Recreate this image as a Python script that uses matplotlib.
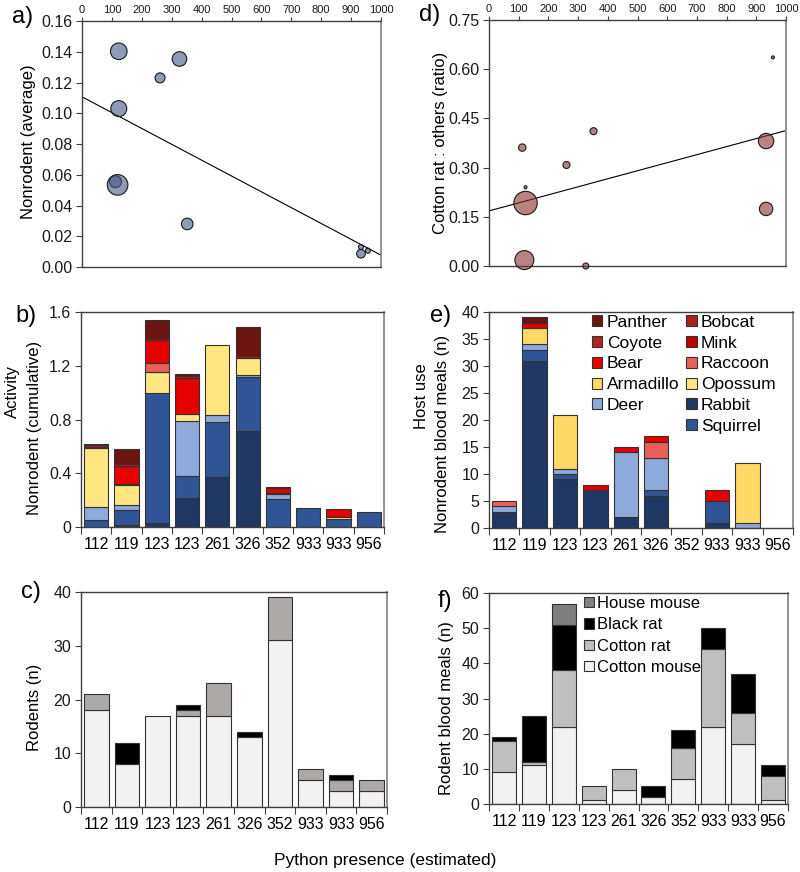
import matplotlib
matplotlib.use('Agg')
import matplotlib.pyplot as plt
from matplotlib.patches import Patch
import numpy as np

plt.rcParams['font.family'] = ['Liberation Sans', 'DejaVu Sans']

# sites, ordered by estimated python presence
presence = [112, 119, 123, 123, 261, 326, 352, 933, 933, 956]
site_labels = ['112', '119', '123', '123', '261', '326', '352', '933', '933', '956']

# a) nonrodent activity (average), bubble radius in px
nonrod_avg = [0.0555, 0.0534, 0.1403, 0.103, 0.123, 0.1353, 0.028, 0.0086, 0.013, 0.0106]
nonrod_rad = [6, 10.3, 8.3, 8, 5, 7.3, 5.8, 4.3, 2.5, 2.5]
fit_a = [0.1107, -0.000103]   # intercept, slope

# d) cotton rat : others ratio, bubble radius in px
ratio_cr = [0.361, 0.018, 0.192, 0.240, 0.308, 0.0, 0.411, 0.381, 0.174, 0.636]
ratio_rad = [3.7, 9.5, 11.7, 1.5, 3.5, 3, 3.5, 7.7, 6.7, 1.5]
fit_d = [0.168, 0.000245]

# b) nonrodent activity (cumulative)
act_rabbit = [0, 0.017, 0.032, 0.219, 0.373, 0.714, 0, 0, 0, 0]
act_squirrel = [0.055, 0.112, 0.963, 0.159, 0.406, 0.401, 0.212, 0.144, 0.057, 0.112]
act_deer = [0.095, 0.038, 0, 0.413, 0.055, 0.017, 0.03, 0, 0, 0]
act_opossum = [0.435, 0.144, 0.162, 0.048, 0.522, 0.124, 0, 0, 0.015, 0]
act_armadillo = [0, 0, 0, 0, 0, 0, 0, 0, 0, 0]
act_raccoon = [0, 0.012, 0.062, 0, 0, 0, 0.012, 0, 0, 0]
act_bear = [0.01, 0.13, 0.174, 0.271, 0, 0.014, 0.038, 0, 0.062, 0]
act_mink = [0, 0, 0.01, 0, 0, 0, 0.008, 0, 0, 0]
act_coyote = [0.015, 0.015, 0, 0.015, 0, 0, 0, 0, 0, 0]
act_bobcat = [0, 0, 0, 0, 0, 0, 0, 0, 0, 0]
act_panther = [0.005, 0.112, 0.137, 0.015, 0, 0.218, 0, 0, 0, 0]

# e) nonrodent blood meals (n)
bm_rabbit = [3, 31, 9, 7, 2, 6, 0, 1, 0, 0]
bm_squirrel = [0, 2, 1, 0, 0, 1, 0, 4, 0, 0]
bm_deer = [1, 1, 1, 0, 12, 6, 0, 0, 1, 0]
bm_opossum = [0, 0, 0, 0, 0, 0, 0, 0, 0, 0]
bm_armadillo = [0, 3, 10, 0, 0, 0, 0, 0, 11, 0]
bm_raccoon = [1, 0, 0, 0, 0, 3, 0, 0, 0, 0]
bm_bear = [0, 1, 0, 1, 1, 1, 0, 2, 0, 0]
bm_mink = [0, 0, 0, 0, 0, 0, 0, 0, 0, 0]
bm_coyote = [0, 0, 0, 0, 0, 0, 0, 0, 0, 0]
bm_bobcat = [0, 0, 0, 0, 0, 0, 0, 0, 0, 0]
bm_panther = [0, 1, 0, 0, 0, 0, 0, 0, 0, 0]

# c) rodents (n)
rod_cotton_mouse = [18, 8, 17, 17, 17, 13, 31, 5, 3, 3]
rod_cotton_rat = [3, 0, 0, 1, 6, 0, 8, 2, 2, 2]
rod_black_rat = [0, 4, 0, 1, 0, 1, 0, 0, 1, 0]

# f) rodent blood meals (n)
rbm_cotton_mouse = [9, 11, 22, 1, 4, 2, 7, 22, 17, 1]
rbm_cotton_rat = [9, 1, 16, 4, 6, 0, 9, 22, 9, 7]
rbm_black_rat = [1, 13, 13, 0, 0, 3, 5, 6, 11, 3]
rbm_house_mouse = [0, 0, 6, 0, 0, 0, 0, 0, 0, 0]

species = ['Rabbit', 'Squirrel', 'Deer', 'Opossum', 'Armadillo', 'Raccoon',
           'Bear', 'Mink', 'Coyote', 'Bobcat', 'Panther']
sp_colors = ['#1F3864', '#2F5597', '#8EA9DB', '#FFE680', '#FFD966', '#E8605A',
             '#E60000', '#C00000', '#B22222', '#B0201A', '#6B1510']
act_data = [act_rabbit, act_squirrel, act_deer, act_opossum, act_armadillo, act_raccoon,
            act_bear, act_mink, act_coyote, act_bobcat, act_panther]
bm_data = [bm_rabbit, bm_squirrel, bm_deer, bm_opossum, bm_armadillo, bm_raccoon,
           bm_bear, bm_mink, bm_coyote, bm_bobcat, bm_panther]

W, H = 800, 872
TICK = 11.5
LAB = 12
fig = plt.figure(figsize=(W / 100, H / 100), dpi=100)


def px_axes(l, t, r, b):
    return fig.add_axes([l / W, 1 - b / H, (r - l) / W, (b - t) / H])


def ftext(x, y, s, **kw):
    fig.text(x / W, 1 - y / H, s, ha='center', va='center', **kw)


def style_spines(ax):
    for s in ['left', 'bottom', 'top']:
        ax.spines[s].set_color('#404040')
        ax.spines[s].set_linewidth(1.0)
    ax.spines['right'].set_color('#808080')
    ax.spines['right'].set_linewidth(1.2)
    ax.tick_params(colors='#404040', labelcolor='#1a1a1a')


def bubble(ax, yvals, rads, fit, face, ylim, yticks):
    s = [(2 * r * 0.72) ** 2 for r in rads]
    ax.scatter(presence, yvals, s=s, facecolors=face, edgecolors='#1a1a1a',
               linewidths=0.8, zorder=3, clip_on=False)
    xx = np.array([0, 1000])
    ax.plot(xx, fit[0] + fit[1] * xx, color='black', lw=0.8, zorder=2)
    ax.set_xlim(0, 1000)
    ax.set_ylim(*ylim)
    ax.xaxis.tick_top()
    ax.set_xticks(np.arange(0, 1001, 100))
    ax.tick_params(axis='x', labelsize=8, length=3, pad=1)
    ax.set_yticks(yticks)
    ax.set_yticklabels(['%.2f' % v for v in yticks])
    ax.tick_params(axis='y', labelsize=TICK, length=4, pad=3)
    style_spines(ax)


def bar_axis(ax, ylim, yticks, ylabels):
    x = np.arange(10)
    ax.set_xlim(-0.5, 9.5)
    ax.set_ylim(*ylim)
    ax.set_xticks(np.arange(-0.5, 10, 1))
    ax.set_xticklabels([])
    ax.set_xticks(x, minor=True)
    ax.set_xticklabels(site_labels, minor=True)
    ax.tick_params(axis='x', which='major', length=5)
    ax.tick_params(axis='x', which='minor', length=0, labelsize=TICK, pad=7)
    ax.set_yticks(yticks)
    ax.set_yticklabels(ylabels)
    ax.tick_params(axis='y', labelsize=TICK, length=4, pad=3)
    style_spines(ax)


def stack(ax, series, colors):
    x = np.arange(10)
    bottom = np.zeros(10)
    for vals, c in zip(series, colors):
        v = np.array(vals, dtype=float)
        m = v > 0
        ax.bar(x[m], v[m], 0.8, bottom=bottom[m], color=c, edgecolor='#333333', linewidth=0.8)
        bottom += v


# a)
ax_a = px_axes(82, 21, 381, 267)
bubble(ax_a, nonrod_avg, nonrod_rad, fit_a, (0.26, 0.345, 0.52, 0.6),
       (0, 0.16), np.arange(0, 0.161, 0.02))

# d)
ax_d = px_axes(489, 20, 786, 266)
bubble(ax_d, ratio_cr, ratio_rad, fit_d, (0.54, 0.2, 0.19, 0.6),
       (0, 0.75), np.arange(0, 0.751, 0.15))

# b)
ax_b = px_axes(81, 312, 384, 527)
stack(ax_b, act_data, sp_colors)
bar_axis(ax_b, (0, 1.6), [0, 0.4, 0.8, 1.2, 1.6], ['0', '0.4', '0.8', '1.2', '1.6'])

# e)
ax_e = px_axes(489, 312, 793, 528)
stack(ax_e, bm_data, sp_colors)
bar_axis(ax_e, (0, 40), range(0, 41, 5), [str(v) for v in range(0, 41, 5)])
col = dict(zip(species, sp_colors))
leg_order = ['Panther', 'Coyote', 'Bear', 'Armadillo', 'Deer', None,
             'Bobcat', 'Mink', 'Raccoon', 'Opossum', 'Rabbit', 'Squirrel']
handles, labels = [], []
for nm in leg_order:
    if nm is None:
        handles.append(Patch(facecolor='none', edgecolor='none'))
        labels.append('')
    else:
        handles.append(Patch(facecolor=col[nm], edgecolor='#333333', linewidth=0.8))
        labels.append(nm)
fig.legend(handles, labels, ncol=2, loc='upper left', bbox_to_anchor=(592 / W, 1 - 315 / H),
           frameon=False, fontsize=12.5, handlelength=0.6, handleheight=0.6,
           handletextpad=0.25, columnspacing=0.4, labelspacing=0.33,
           borderpad=0, borderaxespad=0)

# c)
ax_c = px_axes(81, 592, 387, 807)
stack(ax_c, [rod_cotton_mouse, rod_cotton_rat, rod_black_rat], ['#F2F2F2', '#ADA9A9', '#000000'])
bar_axis(ax_c, (0, 40), range(0, 41, 10), [str(v) for v in range(0, 41, 10)])

# f)
ax_f = px_axes(489, 593, 788, 804)
f_colors = ['#F2F2F2', '#BFBFBF', '#000000', '#7F7F7F']
f_names = ['Cotton mouse', 'Cotton rat', 'Black rat', 'House mouse']
stack(ax_f, [rbm_cotton_mouse, rbm_cotton_rat, rbm_black_rat, rbm_house_mouse], f_colors)
bar_axis(ax_f, (0, 60), range(0, 61, 10), [str(v) for v in range(0, 61, 10)])
fh = [Patch(facecolor=c, edgecolor='#333333', linewidth=0.8) for c in f_colors[::-1]]
fig.legend(fh, f_names[::-1], loc='upper left', bbox_to_anchor=(584 / W, 1 - 596 / H),
           frameon=False, fontsize=12, handlelength=0.6, handleheight=0.6,
           handletextpad=0.2, labelspacing=0.38, borderpad=0, borderaxespad=0)

# panel letters
for x, y, s in [(23, 17, 'a)'), (26, 316, 'b)'), (31, 592, 'c)'),
                (430, 15, 'd)'), (441, 316, 'e)'), (445, 601, 'f)')]:
    ftext(x, y, s, fontsize=17)

# axis titles
ftext(28, 142, 'Nonrodent (average)', fontsize=LAB, rotation=90)
ftext(12, 392, 'Activity', fontsize=LAB, rotation=90)
ftext(35, 428, 'Nonrodent (cumulative)', fontsize=LAB, rotation=90)
ftext(34, 707, 'Rodents (n)', fontsize=LAB, rotation=90)
ftext(441, 143, 'Cotton rat : others (ratio)', fontsize=LAB, rotation=90)
ftext(422, 396, 'Host use', fontsize=LAB, rotation=90)
ftext(442, 434, 'Nonrodent blood meals (n)', fontsize=LAB, rotation=90)
ftext(446, 708, 'Rodent blood meals (n)', fontsize=LAB, rotation=90)
ftext(385, 860, 'Python presence (estimated)', fontsize=LAB + 0.5)

fig.savefig('out.png', dpi=100)
